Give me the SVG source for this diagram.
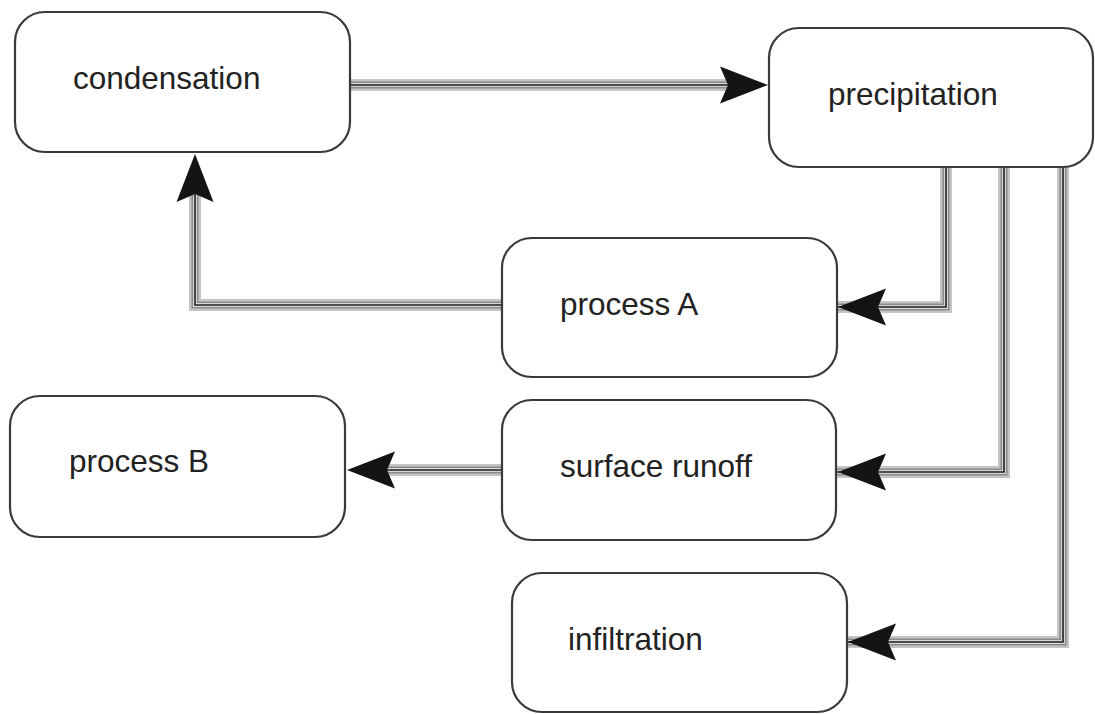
<svg xmlns="http://www.w3.org/2000/svg" xmlns:xlink="http://www.w3.org/1999/xlink" width="1095" height="714" viewBox="0 0 1095 714">
<style>
.box{fill:#fff;stroke:#3a3a3a;stroke-width:2.2}
.lbl{font-family:"Liberation Sans",Arial,sans-serif;font-size:31.5px;fill:#222}
.c1{fill:none;stroke:#c4c4c4;stroke-width:12}
.c2{fill:none;stroke:#8a8a8a;stroke-width:7}
.c3{fill:none;stroke:#d8d8d8;stroke-width:4}
.c4{fill:none;stroke:#1e1e1e;stroke-width:1.6}
.ah{fill:#141414}
</style>
<defs>
<path id="ah" d="M0,0 L-48,-18.5 L-40,0 L-48,18.5 Z"/>
<g id="conns">
</g>
</defs>
<rect width="1095" height="714" fill="#fff"/>
<g id="connectors">
<g id="paths">
<path id="p1" class="c1" d="M350,85 H735"/>
<path class="c1" d="M946,167 V307 H805"/>
<path class="c1" d="M1004,167 V472 H805"/>
<path class="c1" d="M1063,167 V642 H815"/>
<path class="c1" d="M502,305 H195 V190"/>
<path class="c1" d="M502,470 H380"/>
<path class="c2" d="M350,85 H735"/>
<path class="c2" d="M946,167 V307 H805"/>
<path class="c2" d="M1004,167 V472 H805"/>
<path class="c2" d="M1063,167 V642 H815"/>
<path class="c2" d="M502,305 H195 V190"/>
<path class="c2" d="M502,470 H380"/>
<path class="c3" d="M350,85 H735"/>
<path class="c3" d="M946,167 V307 H805"/>
<path class="c3" d="M1004,167 V472 H805"/>
<path class="c3" d="M1063,167 V642 H815"/>
<path class="c3" d="M502,305 H195 V190"/>
<path class="c3" d="M502,470 H380"/>
<path class="c4" d="M350,85 H735"/>
<path class="c4" d="M946,167 V307 H805"/>
<path class="c4" d="M1004,167 V472 H805"/>
<path class="c4" d="M1063,167 V642 H815"/>
<path class="c4" d="M502,305 H195 V190"/>
<path class="c4" d="M502,470 H380"/>
</g>
<g id="heads" class="ah">
<use xlink:href="#ah" href="#ah" transform="translate(768,85)"/>
<use xlink:href="#ah" href="#ah" transform="translate(838,307) rotate(180)"/>
<use xlink:href="#ah" href="#ah" transform="translate(838,472) rotate(180)"/>
<use xlink:href="#ah" href="#ah" transform="translate(848,642) rotate(180)"/>
<use xlink:href="#ah" href="#ah" transform="translate(195,154) rotate(-90)"/>
<use xlink:href="#ah" href="#ah" transform="translate(347,470) rotate(180)"/>
</g>
</g>
<g id="node-condensation">
<rect class="box" x="15" y="12" width="335" height="140" rx="30"/>
<text class="lbl" x="73" y="89">condensation</text>
</g>
<g id="node-precipitation">
<rect class="box" x="769" y="28" width="324" height="139" rx="30"/>
<text class="lbl" x="828" y="105">precipitation</text>
</g>
<g id="node-processA">
<rect class="box" x="502" y="238" width="335" height="139" rx="30"/>
<text class="lbl" x="560" y="315">process A</text>
</g>
<g id="node-processB">
<rect class="box" x="10" y="396" width="335" height="141" rx="30"/>
<text class="lbl" x="69" y="472">process B</text>
</g>
<g id="node-surface-runoff">
<rect class="box" x="502" y="400" width="334" height="140" rx="30"/>
<text class="lbl" x="560" y="477">surface runoff</text>
</g>
<g id="node-infiltration">
<rect class="box" x="512" y="573" width="335" height="139" rx="30"/>
<text class="lbl" x="568" y="650">infiltration</text>
</g>
</svg>
